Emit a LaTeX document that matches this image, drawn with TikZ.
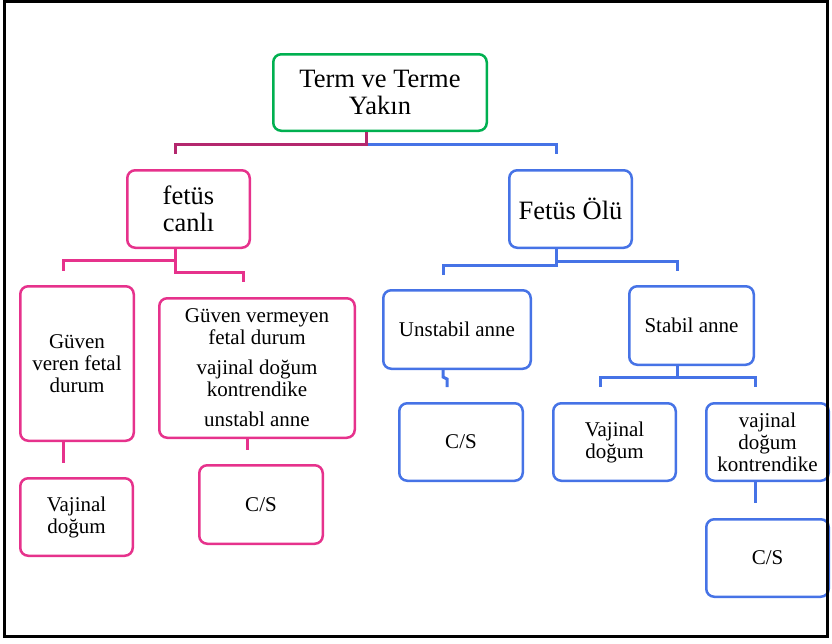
\documentclass[tikz,border=0pt]{standalone}
\usepackage{fontspec}
\setmainfont{Liberation Serif}
\definecolor{gbox}{RGB}{0,176,80}
\definecolor{mbox}{RGB}{230,50,140}
\definecolor{mdark}{RGB}{180,40,110}
\definecolor{bbox}{RGB}{70,115,230}
\begin{document}
\begin{tikzpicture}[x=1pt,y=-1pt,
  box/.style={rounded corners=8pt, line width=2.5pt, align=center, inner sep=0pt, text=black},
  gnode/.style={box, draw=gbox},
  mnode/.style={box, draw=mbox},
  bnode/.style={box, draw=bbox},
  bigtxt/.style={font=\fontsize{26.5}{27}\selectfont},
  smalltxt/.style={font=\fontsize{21}{22}\selectfont},
  link/.style={line width=3pt}]
\useasboundingbox (0,0) rectangle (832,643);

% boxes
\node[gnode, bigtxt, minimum width=213.5pt, minimum height=76.5pt] (root) at (380,92.5) {Term ve Terme\\Yakın};
\node[mnode, bigtxt, minimum width=122.5pt, minimum height=77.5pt] (fc) at (188.5,209) {fetüs\\canlı};
\node[bnode, bigtxt, minimum width=122.5pt, minimum height=77.5pt] (fo) at (570.5,209) {Fetüs Ölü};

\node[mnode, smalltxt, minimum width=113.5pt, minimum height=154.5pt] (gv) at (77,363.5) {Güven\\veren fetal\\durum};
\node[mnode, smalltxt, minimum width=195.5pt, minimum height=139.5pt] (gvm) at (257,368) {Güven vermeyen\\fetal durum\\[8pt]vajinal doğum\\kontrendike\\[8pt]unstabl anne};
\node[mnode, smalltxt, minimum width=112.5pt, minimum height=77.5pt] (vd1) at (76.5,517) {Vajinal\\doğum};
\node[mnode, smalltxt, minimum width=123.5pt, minimum height=78.5pt] (cs1) at (261,504.5) {C/S};

\node[bnode, smalltxt, minimum width=147.5pt, minimum height=78.5pt] (ua) at (457,329.5) {Unstabil anne};
\node[bnode, smalltxt, minimum width=124.5pt, minimum height=78.5pt] (sa) at (691.5,325.5) {Stabil anne};
\node[bnode, smalltxt, minimum width=123.5pt, minimum height=77.5pt] (cs2) at (461,442) {C/S};
\node[bnode, smalltxt, minimum width=122.5pt, minimum height=77.5pt] (vd2) at (614.5,442) {Vajinal\\doğum};
\node[bnode, smalltxt, minimum width=122.5pt, minimum height=77.5pt] (vk) at (767.5,442) {vajinal\\doğum\\kontrendike};
\node[bnode, smalltxt, minimum width=122.5pt, minimum height=77.5pt] (cs3) at (767.5,558) {C/S};

% free ends of the connectors
\coordinate (e1) at (175,154);
\coordinate (e2) at (556,154);
\coordinate (e3) at (63,271);
\coordinate (e4) at (243,282);
\coordinate (e5) at (443,275);
\coordinate (e6) at (677,271);
\coordinate (e7) at (63,463);
\coordinate (e8) at (247,450);
\coordinate (e9) at (447,387);
\coordinate (e10) at (600,387);
\coordinate (e11) at (755,387);
\coordinate (e12) at (755,503);

% connectors
\draw[link, bbox] (root.south -| 366,0) |- (556,144) -- (e2);
\draw[link, mdark] (root.south -| 366,0) |- (175,144) -- (e1);

\draw[link, mbox] (fc.south -| 175,0) |- (63,260) -- (e3);
\draw[link, mbox] (fc.south -| 175,0) |- (243,272) -- (e4);

\draw[link, bbox] (fo.south -| 556,0) |- (677,261) -- (e6);
\draw[link, bbox] (fo.south -| 556,0) |- (443,265) -- (e5);

\draw[link, mbox] (gv.south -| 63,0) -- (e7);
\draw[link, mbox] (gvm.south -| 247,0) -- (e8);

\draw[link, bbox] (ua.south -| 443,0) -- (443,377) -- (447,379) -- (e9);
\draw[link, bbox] (sa.south -| 677,0) -- (677,377);
\draw[link, bbox] (e10) |- (755,377) -- (e11);
\draw[link, bbox] (vk.south -| 755,0) -- (e12);

% outer frame
\draw[line width=3pt, black] (4.5,1.5) rectangle (827.5,636.5);
\end{tikzpicture}
\end{document}
